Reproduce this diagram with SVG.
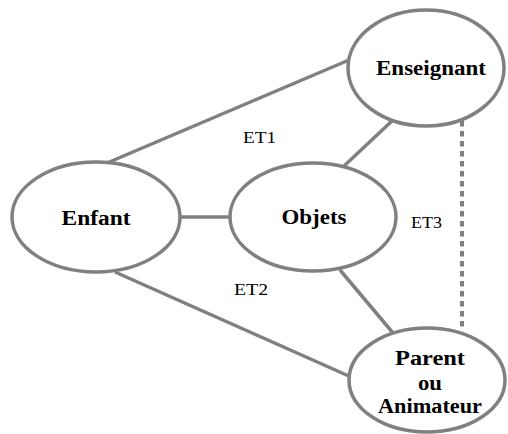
<svg xmlns="http://www.w3.org/2000/svg" width="508" height="434" viewBox="0 0 508 434">
<style>
.n{fill:#fff;stroke:#808080;stroke-width:3.5}
.c{stroke:#808080;stroke-width:3.5;fill:none}
.d{stroke:#808080;stroke-width:4;stroke-dasharray:5.5 4.5;fill:none}
.t{font-family:"Liberation Serif",serif;font-weight:bold;font-size:20px;fill:#000;text-anchor:middle}
.l{font-family:"Liberation Serif",serif;font-size:16px;fill:#000}
</style>
<rect width="508" height="434" fill="#fff"/>
<g id="connectors">
<line class="c" x1="107" y1="163" x2="349" y2="60"/>
<line class="c" x1="115" y1="272" x2="351" y2="377"/>
<line class="c" x1="180" y1="217" x2="231" y2="217"/>
<line class="c" x1="344" y1="166" x2="393" y2="120"/>
<line class="c" x1="340" y1="270" x2="393" y2="333"/>
<line class="d" x1="462" y1="121" x2="462" y2="328"/>
</g>
<g id="enseignant">
<ellipse class="n" cx="426" cy="68" rx="78" ry="58"/>
<text class="t" x="431" y="75" textLength="110" lengthAdjust="spacingAndGlyphs">Enseignant</text>
</g>
<g id="enfant">
<ellipse class="n" cx="96" cy="217" rx="84" ry="55"/>
<text class="t" x="96" y="225" textLength="69" lengthAdjust="spacingAndGlyphs">Enfant</text>
</g>
<g id="objets">
<ellipse class="n" cx="313" cy="217" rx="83" ry="54"/>
<text class="t" x="314" y="224" textLength="65" lengthAdjust="spacingAndGlyphs">Objets</text>
</g>
<g id="parent">
<ellipse class="n" cx="427" cy="380" rx="78" ry="52"/>
<text class="t" x="430" y="365" textLength="70" lengthAdjust="spacingAndGlyphs">Parent</text>
<text class="t" x="430" y="390" textLength="24" lengthAdjust="spacingAndGlyphs">ou</text>
<text class="t" x="430" y="413" textLength="104" lengthAdjust="spacingAndGlyphs">Animateur</text>
</g>
<g id="labels">
<text class="l" x="243" y="143" textLength="33" lengthAdjust="spacingAndGlyphs">ET1</text>
<text class="l" x="234" y="295" textLength="34" lengthAdjust="spacingAndGlyphs">ET2</text>
<text class="l" x="411" y="228" textLength="31" lengthAdjust="spacingAndGlyphs">ET3</text>
</g>
</svg>
